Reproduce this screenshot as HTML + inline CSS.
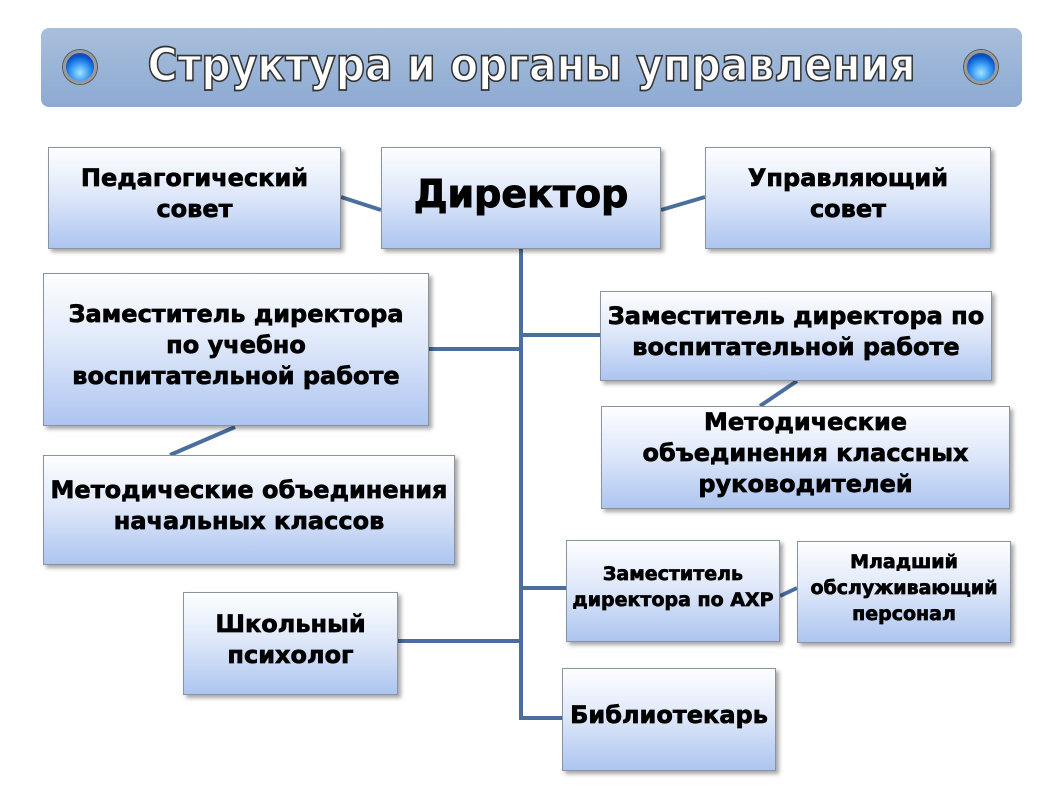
<!DOCTYPE html>
<html><head><meta charset="utf-8"><style>
body{margin:0;width:1058px;height:800px;background:#fff;position:relative;overflow:hidden;font-family:"DejaVu Sans","Liberation Sans",sans-serif}
.title{position:absolute;left:41px;top:28px;width:981px;height:79px;border-radius:8px;background:linear-gradient(#a9bfdc,#8daad2);}
.title span{position:absolute;left:0;right:0;top:13px;text-align:center;font-size:41px;font-weight:bold;color:#fff;font-family:"DejaVu Sans",sans-serif;-webkit-text-stroke:1.5px #333;letter-spacing:0px;transform:scaleY(1.1)}
.ball{position:absolute;top:50px;width:34px;height:34px;border-radius:50%;background:radial-gradient(circle at 50% 70%,#9ee6ff 0,#2a8cf0 45%,#0b4fc0 70%);border:3px solid #9a9a9a;box-sizing:border-box;box-shadow:0 0 0 1px #555}
.b{position:absolute;box-sizing:border-box;border:1.5px solid #8a939e;background:linear-gradient(#fdfeff 0%,#e0e9fa 45%,#adc5f0 100%);box-shadow:3px 3px 4px rgba(0,0,0,.35);display:flex;align-items:center;justify-content:center;text-align:center;font-weight:bold;color:#000;font-size:24px;line-height:31px;padding-bottom:8px;-webkit-text-stroke:0.7px #000;white-space:nowrap}
svg{position:absolute;left:0;top:0}
</style></head><body>
<div class="title"><span>Структура и органы управления</span></div>
<div class="ball" style="left:63px"></div>
<div class="ball" style="left:964px"></div>
<svg width="1058" height="800"><g stroke="#4a6f9e" stroke-width="4" fill="none">
<line x1="521" y1="249" x2="521" y2="719"/>
<line x1="429" y1="349" x2="521" y2="349"/>
<line x1="521" y1="335" x2="600" y2="335"/>
<line x1="521" y1="588" x2="566" y2="588"/>
<line x1="398" y1="641" x2="521" y2="641"/>
<line x1="519" y1="718" x2="562" y2="718"/>
<line x1="341" y1="197" x2="381" y2="210"/>
<line x1="661" y1="210" x2="705" y2="197"/>
<line x1="235" y1="427" x2="170" y2="455"/>
<line x1="797" y1="381" x2="760" y2="406"/>
<line x1="780" y1="596" x2="797" y2="588"/>
</g></svg>
<div class="b" style="left:48px;top:147px;width:293px;height:102px">Педагогический<br>совет</div>
<div class="b" style="left:381px;top:147px;width:280px;height:102px;font-size:38px;-webkit-text-stroke:1px #000">Директор</div>
<div class="b" style="left:705px;top:147px;width:286px;height:102px">Управляющий<br>совет</div>
<div class="b" style="left:43px;top:273px;width:386px;height:153px">Заместитель директора<br>по учебно<br>воспитательной работе</div>
<div class="b" style="left:600px;top:291px;width:392px;height:90px">Заместитель директора по<br>воспитательной работе</div>
<div class="b" style="left:601px;top:406px;width:409px;height:103px">Методические<br>объединения классных<br>руководителей</div>
<div class="b" style="left:43px;top:455px;width:412px;height:110px">Методические объединения<br>начальных классов</div>
<div class="b" style="left:566px;top:540px;width:214px;height:102px;font-size:19px;line-height:26px">Заместитель<br>директора по АХР</div>
<div class="b" style="left:797px;top:541px;width:214px;height:102px;font-size:19px;line-height:26px">Младший<br>обслуживающий<br>персонал</div>
<div class="b" style="left:183px;top:592px;width:215px;height:103px">Школьный<br>психолог</div>
<div class="b" style="left:562px;top:668px;width:214px;height:103px">Библиотекарь</div>
</body></html>
